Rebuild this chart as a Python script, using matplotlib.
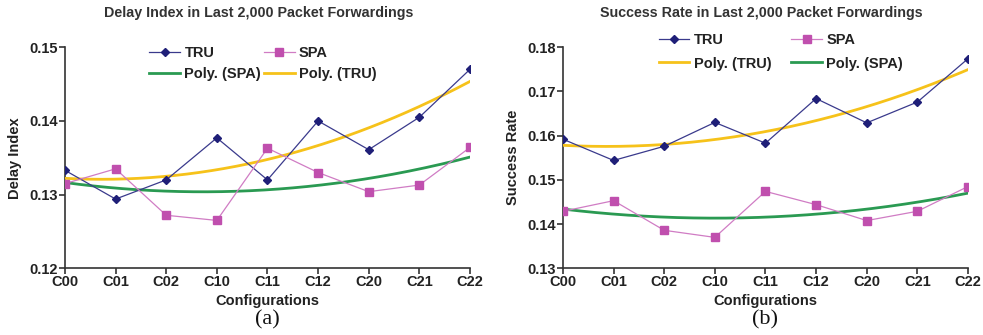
import numpy as np
import matplotlib
matplotlib.use("Agg")
import matplotlib.pyplot as plt

configs = ["C00", "C01", "C02", "C10", "C11", "C12", "C20", "C21", "C22"]

delay_tru = [0.1333, 0.1294, 0.1320, 0.1377, 0.1320, 0.1400, 0.1361, 0.1405, 0.1470]
delay_spa = [0.1315, 0.1335, 0.1272, 0.1265, 0.1363, 0.1330, 0.1304, 0.1313, 0.1364]

succ_tru = [0.1592, 0.1544, 0.1576, 0.1630, 0.1583, 0.1684, 0.1629, 0.1676, 0.1774]
succ_spa = [0.1429, 0.1453, 0.1386, 0.1370, 0.1474, 0.1444, 0.1408, 0.1429, 0.1485]

delay_yticks = [0.12, 0.13, 0.14, 0.15]
succ_yticks = [0.13, 0.14, 0.15, 0.16, 0.17, 0.18]

plt.rcParams['font.family'] = ['Liberation Sans', 'DejaVu Sans']

C_TRU = '#1f1f78'
C_SPA = '#c04fae'
C_PSPA = '#2a9a52'
C_PTRU = '#f6c21a'
C_AX = '#333333'

fig = plt.figure(figsize=(9.83, 3.35), dpi=100)


def trend(y, order=2):
    x = np.arange(len(y))
    c = np.polyfit(x, y, order)
    xs = np.linspace(0, len(y) - 1, 200)
    return xs, np.polyval(c, xs)


def panel(rect, tru, spa, yticks, title, ylabel, tag, legend_order, leg_anchor,
          lspace, cspace, ylpad, title_x):
    ax = fig.add_axes(rect)
    x = np.arange(len(configs))
    h_tru, = ax.plot(x, tru, color='#3a3a8c', lw=0.9, marker='D', ms=4.5,
                     mfc=C_TRU, mec=C_TRU, label='TRU', zorder=4)
    h_spa, = ax.plot(x, spa, color='#d07cc4', lw=0.9, marker='s', ms=6,
                     mfc=C_SPA, mec=C_SPA, label='SPA', zorder=4)
    xs, yt = trend(tru)
    h_pt, = ax.plot(xs, yt, color=C_PTRU, lw=2.0, label='Poly. (TRU)', zorder=3)
    xs, ys = trend(spa)
    h_ps, = ax.plot(xs, ys, color=C_PSPA, lw=2.0, label='Poly. (SPA)', zorder=3)
    hd = {'TRU': h_tru, 'SPA': h_spa, 'PT': h_pt, 'PS': h_ps}
    hs = [hd[k] for k in legend_order]
    ax.set_xlim(0, len(configs) - 1)
    ax.set_ylim(yticks[0], yticks[-1])
    ax.set_xticks(x)
    ax.set_xticklabels(configs)
    ax.set_yticks(yticks)
    ax.set_yticklabels([f"{v:.2f}" for v in yticks])
    for s in ['top', 'right']:
        ax.spines[s].set_visible(False)
    for s in ['left', 'bottom']:
        ax.spines[s].set_color(C_AX)
        ax.spines[s].set_linewidth(1.2)
    ax.tick_params(direction='out', length=4, width=1.2, color=C_AX,
                   labelsize=10.5, pad=1)
    for lab in ax.get_xticklabels() + ax.get_yticklabels():
        lab.set_fontweight('bold')
        lab.set_color('#222222')
    ax.set_xlabel('Configurations', fontsize=10.5, fontweight='bold',
                  color='#222222', labelpad=3.5)
    ax.set_ylabel(ylabel, fontsize=10.5, fontweight='bold', color='#222222',
                  labelpad=ylpad)
    leg = ax.legend(handles=hs, ncol=2, frameon=False, loc='upper left',
                    bbox_to_anchor=leg_anchor, bbox_transform=fig.transFigure,
                    prop={'weight': 'bold', 'size': 10.5},
                    handlelength=2.1, handletextpad=0.3, columnspacing=cspace,
                    labelspacing=lspace, borderaxespad=0, borderpad=0)
    for t in leg.get_texts():
        t.set_color('#222222')
    cx = rect[0] + rect[2] / 2
    fig.text(title_x, 0.962, title, ha='center', va='center', fontsize=10.3,
             fontweight='bold', color='#333333')
    fig.text(cx, 0.045, tag, ha='center', va='center', fontsize=16,
             family='Liberation Serif', color='#111111')
    return ax


panel([0.0661, 0.199, 0.412, 0.660], delay_tru, delay_spa, delay_yticks,
      'Delay Index in Last 2,000 Packet Forwardings', 'Delay Index', '(a)',
      ['TRU', 'PS', 'SPA', 'PT'], (0.152, 0.862), 0.45, 0.2, 5, 0.263)
panel([0.5727, 0.199, 0.412, 0.660], succ_tru, succ_spa, succ_yticks,
      'Success Rate in Last 2,000 Packet Forwardings', 'Success Rate', '(b)',
      ['TRU', 'PT', 'SPA', 'PS'], (0.670, 0.9), 0.62, 1.37, 5, 0.774)

fig.savefig('out.png', dpi=100)
